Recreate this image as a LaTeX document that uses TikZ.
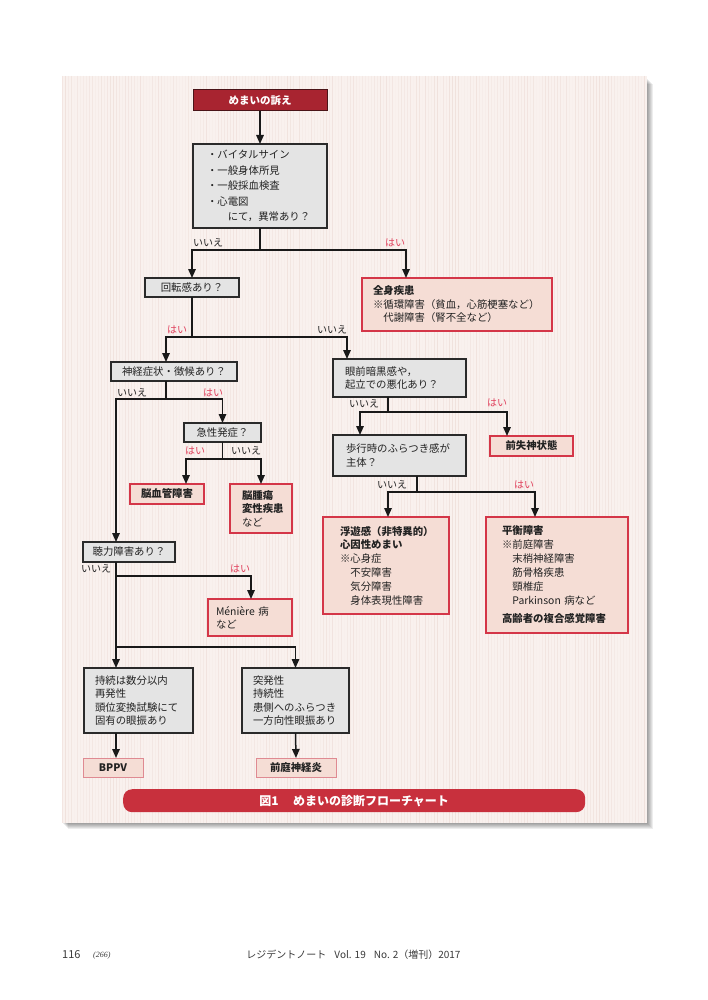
\documentclass[tikz,border=0pt]{standalone}
\usepackage{fontspec}
\setmainfont{Noto Sans CJK JP}
\newfontfamily\pgserif{Liberation Serif}
\usetikzlibrary{arrows.meta}
\definecolor{panelbg}{HTML}{F9F1EE}
\definecolor{stripe}{HTML}{EBD8D2}
\definecolor{gfill}{HTML}{E4E4E4}
\definecolor{gline}{HTML}{2A2A2A}
\definecolor{rfill}{HTML}{F5DDD5}
\definecolor{rline}{HTML}{D43648}
\definecolor{rline2}{HTML}{DF8A92}
\definecolor{titlefill}{HTML}{A82430}
\definecolor{titleline}{HTML}{4A1418}
\definecolor{capfill}{HTML}{C8303D}
\definecolor{yescol}{HTML}{E0405C}
\definecolor{txt}{HTML}{222222}
\definecolor{footgray}{HTML}{3A3A3A}
\newcommand\boxfont{\fontsize{10.4}{13.4}\selectfont}
\begin{document}
\begin{tikzpicture}[x=1pt,y=-1pt,
  box/.style={anchor=north west, align=left, inner ysep=0pt, text=txt, font=\boxfont, outer sep=0pt},
  gbox/.style={box, draw=gline, fill=gfill, line width=1.3pt},
  rbox/.style={box, draw=rline, fill=rfill, line width=1.1pt},
  rthin/.style={box, draw=rline2, fill=rfill, line width=1pt},
  cen/.style={align=center, inner xsep=0pt},
  ln/.style={line width=1.5pt, draw=black!90},
  arr/.style={ln, -{Triangle[length=9pt,width=7.5pt]}},
  nolab/.style={text=txt, font=\fontsize{10}{12}\selectfont, inner sep=0pt},
  yeslab/.style={text=yescol, font=\fontsize{10}{12}\selectfont, inner sep=0pt}]
\useasboundingbox (0,0) rectangle (708,1000);
\fill[white] (0,0) rectangle (708,1000);
% shadow
\foreach \k in {1,...,6}{
  \fill[black,opacity=0.07] (62+\k,78+\k) rectangle (647+\k,823+\k);
}
% panel
\fill[panelbg] (62,76) rectangle (647,823);
\pgfmathsetseed{11}
\foreach \i in {0,...,194}{
  \pgfmathsetmacro\op{0.05+0.55*rnd}
  \draw[stripe, opacity=\op, line width=1pt] (62.5+3*\i,76) -- (62.5+3*\i,823);
}

% nodes
\node[box, cen, fill=titlefill, draw=titleline, line width=1pt, text=white,
  font=\fontsize{10.5}{12}\selectfont\bfseries, minimum width=134pt, minimum height=21pt] (title) at (193,90) {めまいの訴え};

\node[gbox, minimum height=84pt, text width=106pt, inner xsep=14pt,
  font=\fontsize{10.4}{15.6}\selectfont] (vital) at (193,144)
  {・バイタルサイン\\・一般身体所見\\・一般採血検査\\・心電図\\\hspace*{2em}にて，異常あり？};

\node[gbox, cen, minimum width=94pt, minimum height=19pt] (kaiten) at (145,278) {回転感あり？};

\node[rbox, minimum height=53pt, text width=168pt, inner xsep=11pt,
  font=\fontsize{10.4}{13.5}\selectfont] (zenshin) at (362,278)
  {\textbf{全身疾患}\\※循環障害（貧血，心筋梗塞など）\\\hspace*{1em}代謝障害（腎不全など）};

\node[gbox, cen, minimum width=126pt, minimum height=19pt] (shinkei) at (111,362) {神経症状・徴候あり？};

\node[gbox, minimum height=38pt, text width=109pt, inner xsep=12pt] (ganzen) at (333,359)
  {眼前暗黒感や，\\起立での悪化あり？};

\node[gbox, cen, minimum width=77pt, minimum height=19pt] (kyusei) at (184,423) {急性発症？};

\node[rbox, cen, minimum width=74pt, minimum height=20pt, font=\boxfont\bfseries] (nokekkan) at (130,484) {脳血管障害};

\node[rbox, minimum height=49pt, text width=38pt, inner xsep=12pt] (noshuyo) at (230,484)
  {\textbf{脳腫瘍}\\\textbf{変性疾患}\\など};

\node[gbox, minimum height=41pt, text width=107pt, inner xsep=13pt] (hoko) at (333,435)
  {歩行時のふらつき感が\\主体？};

\node[rbox, cen, minimum width=83pt, minimum height=20pt, font=\boxfont\bfseries] (zenshisshin) at (490,436) {前失神状態};

\node[rbox, minimum height=97pt, text width=92pt, inner xsep=17pt,
  font=\fontsize{10.4}{13.8}\selectfont] (fuyu) at (323,517)
  {\textbf{浮遊感（非特異的）}\\\textbf{心因性めまい}\\※心身症\\\hspace*{1em}不安障害\\\hspace*{1em}気分障害\\\hspace*{1em}身体表現性障害};

\node[rbox, minimum height=116pt, text width=110pt, inner xsep=16pt,
  font=\fontsize{10.4}{14}\selectfont] (heiko) at (486,517)
  {\textbf{平衡障害}\\※前庭障害\\\hspace*{1em}末梢神経障害\\\hspace*{1em}筋骨格疾患\\\hspace*{1em}頸椎症\\\hspace*{1em}Parkinson 病など\\[4pt]\textbf{高齢者の複合感覚障害}};

\node[gbox, cen, minimum width=92pt, minimum height=20pt] (choryoku) at (83,542) {聴力障害あり？};

\node[rbox, minimum height=37pt, text width=68pt, inner xsep=8pt] (meniere) at (208,599)
  {Ménière 病\\など};

\node[gbox, minimum height=65pt, text width=87pt, inner xsep=11pt] (bppvq) at (84,668)
  {持続は数分以内\\再発性\\頭位変換試験にて\\固有の眼振あり};

\node[gbox, minimum height=65pt, text width=85pt, inner xsep=11pt] (vnq) at (242,668)
  {突発性\\持続性\\患側へのふらつき\\一方向性眼振あり};

\node[rthin, cen, minimum width=60pt, minimum height=19pt, font=\boxfont\bfseries] (bppv) at (83,758) {BPPV};
\node[rthin, cen, minimum width=80pt, minimum height=19pt, font=\boxfont\bfseries] (vn) at (256,758) {前庭神経炎};

\node[anchor=north west, fill=capfill, rounded corners=9pt, minimum width=462pt, minimum height=23pt,
  inner sep=0pt, text=white, font=\fontsize{12}{14}\selectfont\bfseries] (caption) at (123,789)
  {図1\hspace{1.2em}めまいの診断フローチャート};

% connectors
\draw[arr] (title.south) -- (vital.north);

\coordinate (j1) at (260,250);
\draw[ln] (vital.south) -- (j1);
\draw[arr] (j1) -| (kaiten.north);
\draw[arr] (j1) -| ([xshift=-51pt]zenshin.north);
\node[nolab] (l1) at (208,243) {いいえ};
\node[yeslab] (l2) at (395,243) {はい};

\coordinate (j2) at (192,337);
\draw[ln] (kaiten.south) -- (j2);
\draw[arr] (j2) -| ([xshift=-8pt]shinkei.north);
\draw[arr] (j2) -| ([xshift=-52.5pt]ganzen.north);
\node[yeslab] (l3) at (177,330) {はい};
\node[nolab] (l4) at (332,330) {いいえ};

\coordinate (j3) at (166,399);
\draw[ln] ([xshift=-8pt]shinkei.south) -- (j3);
\draw[arr] (j3) -| ([xshift=-13pt]choryoku.north);
\draw[arr] (j3) -| (kyusei.north);
\node[nolab] (l5) at (132,393) {いいえ};
\node[yeslab] (l6) at (213,393) {はい};

\coordinate (j4) at (222.5,459);
\draw[ln] (kyusei.south) -- (j4);
\draw[arr] (j4) -| ([xshift=19pt]nokekkan.north);
\draw[arr] (j4) -| (noshuyo.north);
\node[yeslab] (l7) at (195,451) {はい};
\node[nolab] (l8) at (246,451) {いいえ};

\coordinate (j5) at (388,412);
\draw[ln] ([xshift=-11.5pt]ganzen.south) -- (j5);
\draw[arr] (j5) -| ([xshift=-39.5pt]hoko.north);
\draw[arr] (j5) -| ([xshift=-24.5pt]zenshisshin.north);
\node[nolab] (l9) at (364,404) {いいえ};
\node[yeslab] (l10) at (497,403) {はい};

\coordinate (j6) at (417,492);
\draw[ln] ([xshift=17.5pt]hoko.south) -- (j6);
\draw[arr] (j6) -| ([xshift=2pt]fuyu.north);
\draw[arr] (j6) -| ([xshift=-22pt]heiko.north);
\node[nolab] (l11) at (392,485) {いいえ};
\node[yeslab] (l12) at (524,485) {はい};

\coordinate (j7) at (116,576);
\coordinate (j8) at (116,647);
\draw[ln] ([xshift=-13pt]choryoku.south) -- (j8);
\draw[arr] (j7) -| ([xshift=1pt]meniere.north);
\draw[arr] (j8) -- ([xshift=-22.5pt]bppvq.north);
\draw[arr] (j8) -| (vnq.north);
\node[nolab] (l13) at (96,569) {いいえ};
\node[yeslab] (l14) at (240,569) {はい};

\draw[arr] ([xshift=-22.5pt]bppvq.south) -- ([xshift=3pt]bppv.north);
\draw[arr] (vnq.south) -- (vn.north);

% footer
\node[anchor=west, inner sep=0pt, text=footgray, font=\fontsize{11}{12}\selectfont] (pg) at (62,955) {116};
\node[anchor=west, inner sep=0pt, text=footgray, font=\pgserif\itshape\fontsize{8}{9}\selectfont] (pg2) at (93,956) {(266)};
\node[inner sep=0pt, text=footgray, font=\fontsize{10}{12}\selectfont] (journal) at (353.5,955)
  {レジデントノート\hspace{0.8em}Vol. 19\hspace{0.8em}No. 2（増刊）2017};
\end{tikzpicture}
\end{document}
